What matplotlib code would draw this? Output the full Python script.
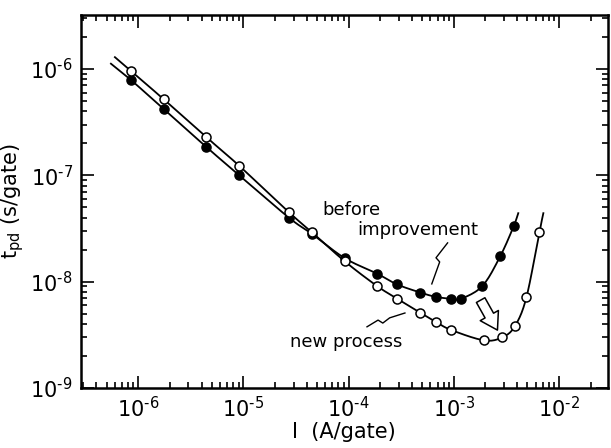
import numpy as np
import matplotlib
matplotlib.use('Agg')
import matplotlib.pyplot as plt
from matplotlib.ticker import LogLocator, NullFormatter, FuncFormatter

# before improvement (filled circles)
before_I = [8.5e-7, 1.74e-6, 4.4e-6, 9.1e-6, 2.7e-5, 4.5e-5, 9.2e-5, 1.86e-4,
            2.9e-4, 4.8e-4, 6.7e-4, 9.4e-4, 1.17e-3, 1.87e-3, 2.77e-3, 3.7e-3]
before_t = [7.9e-7, 4.2e-7, 1.86e-7, 1.0e-7, 4.0e-8, 2.8e-8, 1.66e-8, 1.19e-8,
            9.4e-9, 7.9e-9, 7.2e-9, 6.9e-9, 6.9e-9, 9.1e-9, 1.74e-8, 3.3e-8]
# new process (open circles)
new_I = [8.5e-7, 1.74e-6, 4.4e-6, 9.1e-6, 2.7e-5, 4.5e-5, 9.2e-5, 1.86e-4,
         2.9e-4, 4.8e-4, 6.7e-4, 9.5e-4, 1.95e-3, 2.9e-3, 3.8e-3, 4.9e-3, 6.5e-3]
new_t = [9.6e-7, 5.2e-7, 2.3e-7, 1.23e-7, 4.5e-8, 2.9e-8, 1.55e-8, 9.1e-9,
         6.9e-9, 5.1e-9, 4.2e-9, 3.5e-9, 2.8e-9, 3.0e-9, 3.8e-9, 7.1e-9, 2.9e-8]

# where the drawn curves start and stop beyond the points
before_ends = [(5.5e-7, 1.12e-6), (4.1e-3, 4.4e-8)]
new_ends = [(6.0e-7, 1.29e-6), (7.1e-3, 4.4e-8)]

# hand-drawn leader squiggles (axes fraction)
before_leader = ([0.666, 0.681, 0.674, 0.696], [0.279, 0.338, 0.349, 0.389])
new_leader = ([0.543, 0.564, 0.573, 0.586, 0.615], [0.164, 0.182, 0.174, 0.188, 0.201])


def smooth(xs, ys, n=12):
    # catmull-rom through the points, in log space
    px = np.log10(xs)
    py = np.log10(ys)
    px = np.r_[2 * px[0] - px[1], px, 2 * px[-1] - px[-2]]
    py = np.r_[2 * py[0] - py[1], py, 2 * py[-1] - py[-2]]
    out_x, out_y = [], []
    t = np.linspace(0, 1, n, endpoint=False)
    for i in range(1, len(px) - 2):
        for p, out in ((px, out_x), (py, out_y)):
            p0, p1, p2, p3 = p[i - 1], p[i], p[i + 1], p[i + 2]
            out.extend(0.5 * (2 * p1 + (-p0 + p2) * t + (2 * p0 - 5 * p1 + 4 * p2 - p3) * t ** 2
                              + (-p0 + 3 * p1 - 3 * p2 + p3) * t ** 3))
    out_x.append(px[-2])
    out_y.append(py[-2])
    return 10 ** np.array(out_x), 10 ** np.array(out_y)


fig = plt.figure(figsize=(6.11, 4.48), dpi=100)
ax = fig.add_axes([0.1326, 0.134, 0.862, 0.8325])

for I, t, ends, face in ((before_I, before_t, before_ends, 'black'),
                         (new_I, new_t, new_ends, 'white')):
    cx = [ends[0][0]] + I + [ends[1][0]]
    cy = [ends[0][1]] + t + [ends[1][1]]
    sx, sy = smooth(cx, cy)
    ax.plot(sx, sy, color='black', lw=1.3, zorder=2)
    ax.plot(I, t, 'o', ms=6.5, mfc=face, mec='black', mew=1.1, zorder=3)

ax.set_xscale('log')
ax.set_yscale('log')
ax.set_xlim(10 ** -6.544, 10 ** -1.537)
ax.set_ylim(1e-9, 10 ** -5.493)

expfmt = FuncFormatter(lambda v, p: '$\\mathregular{10^{\u2010%d}}$' % round(-np.log10(v)))
for a in (ax.xaxis, ax.yaxis):
    a.set_major_locator(LogLocator(base=10, numticks=20))
    a.set_minor_locator(LogLocator(base=10, subs=np.arange(2, 10), numticks=20))
    a.set_minor_formatter(NullFormatter())
    a.set_major_formatter(expfmt)
ax.tick_params(which='both', direction='in', top=True, right=True, width=1.2)
ax.tick_params(which='major', length=9, labelsize=15, pad=6)
ax.tick_params(which='minor', length=4)
for s in ax.spines.values():
    s.set_linewidth(1.8)

ax.set_xlabel('I  (A/gate)', fontsize=15, labelpad=0)
ax.set_ylabel(r'$\mathregular{t_{pd}}$ (s/gate)', fontsize=15, labelpad=3)

# labels and leaders
ax.text(0.459, 0.477, 'before', transform=ax.transAxes, fontsize=13, va='center')
ax.text(0.524, 0.424, 'improvement', transform=ax.transAxes, fontsize=13, va='center')
ax.text(0.397, 0.123, 'new process', transform=ax.transAxes, fontsize=13, va='center')
ax.plot(*before_leader, transform=ax.transAxes, color='black', lw=1.0)
ax.plot(*new_leader, transform=ax.transAxes, color='black', lw=1.0)
ax.annotate('', xy=(2.6e-3, 3.5e-9), xytext=(1.8e-3, 6.7e-9),
            arrowprops=dict(arrowstyle='simple,head_length=0.6,head_width=0.75,tail_width=0.35',
                            mutation_scale=20, shrinkA=0, shrinkB=0,
                            fc='white', ec='black', lw=1.1))

fig.savefig('out.png', dpi=100)
